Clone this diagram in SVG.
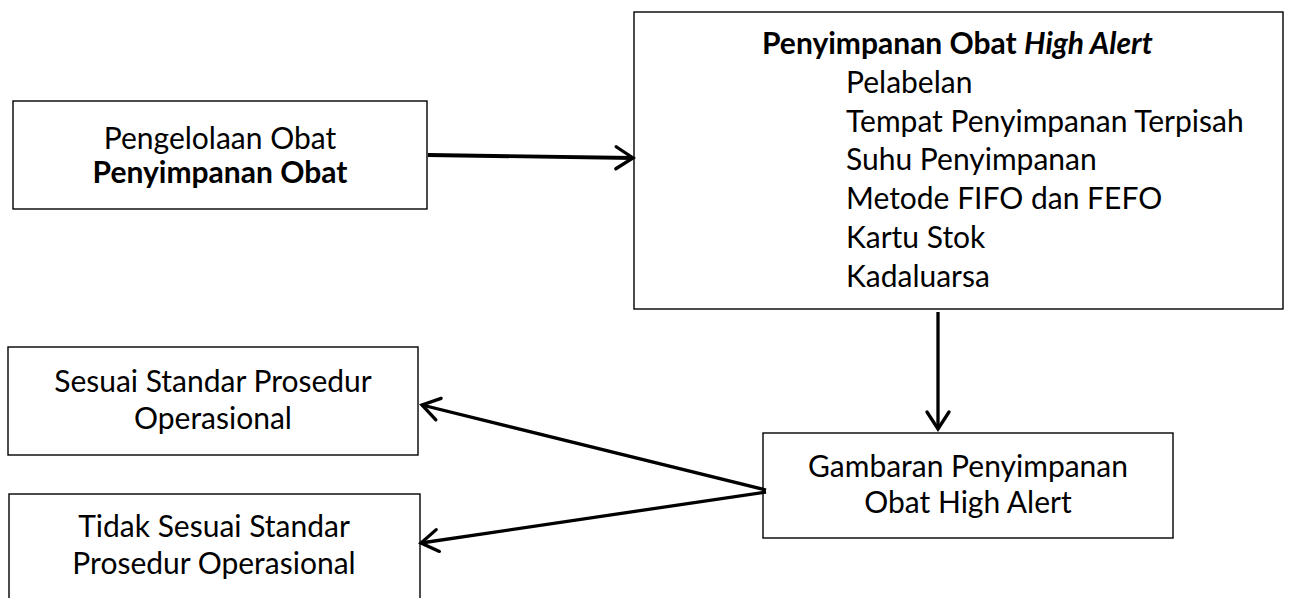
<svg xmlns="http://www.w3.org/2000/svg" width="1290" height="598" viewBox="0 0 1290 598">
<style>
.box{fill:#fff;stroke:#000;stroke-width:1.4}
text{font-family:Lato,"Open Sans","Liberation Sans",sans-serif;font-size:30px;fill:#000}
.c{text-anchor:middle}
.b{font-weight:bold}
.conn{fill:none;stroke:#000;stroke-width:3.3}
.thick{stroke-width:3.9}
</style>
<defs>
<marker id="ah" markerUnits="userSpaceOnUse" markerWidth="30" markerHeight="30" viewBox="-22 -15 26 30" refX="0" refY="0" orient="auto">
<path d="M-17,-11 L0,0 L-17,11" fill="none" stroke="#000" stroke-width="3.3" stroke-linecap="round" stroke-linejoin="miter"/>
</marker>
</defs>
<rect width="1290" height="598" fill="#fff"/>
<g id="n1">
<rect class="box" x="13" y="101" width="414" height="108"/>
<text class="c" x="220" y="149">Pengelolaan Obat</text>
<text class="c b" x="220" y="183">Penyimpanan Obat</text>
</g>
<g id="n2">
<rect class="box" x="634" y="12" width="649" height="297"/>
<text class="b" x="762" y="54">Penyimpanan Obat <tspan font-style="italic">High Alert</tspan></text>
<text x="846" y="93">Pelabelan</text>
<text x="846" y="132">Tempat Penyimpanan Terpisah</text>
<text x="846" y="170">Suhu Penyimpanan</text>
<text x="846" y="209">Metode FIFO dan FEFO</text>
<text x="846" y="248">Kartu Stok</text>
<text x="846" y="287">Kadaluarsa</text>
</g>
<g id="n3">
<rect class="box" x="8" y="347" width="410" height="108"/>
<text class="c" x="213" y="392">Sesuai Standar Prosedur</text>
<text class="c" x="213" y="429">Operasional</text>
</g>
<g id="n4">
<rect class="box" x="9" y="494" width="411" height="110"/>
<text class="c" x="214" y="537">Tidak Sesuai Standar</text>
<text class="c" x="214" y="574">Prosedur Operasional</text>
</g>
<g id="n5">
<rect class="box" x="763" y="433" width="410" height="105"/>
<text class="c" x="968" y="477">Gambaran Penyimpanan</text>
<text class="c" x="968" y="513">Obat High Alert</text>
</g>
<g id="connectors">
<line class="conn thick" x1="428" y1="155" x2="633" y2="158" marker-end="url(#ah)"/>
<line class="conn" x1="938" y1="312" x2="938" y2="429" marker-end="url(#ah)"/>
<line class="conn" x1="766" y1="490" x2="422" y2="405" marker-end="url(#ah)"/>
<line class="conn" x1="766" y1="492" x2="421" y2="543" marker-end="url(#ah)"/>
</g>
</svg>
